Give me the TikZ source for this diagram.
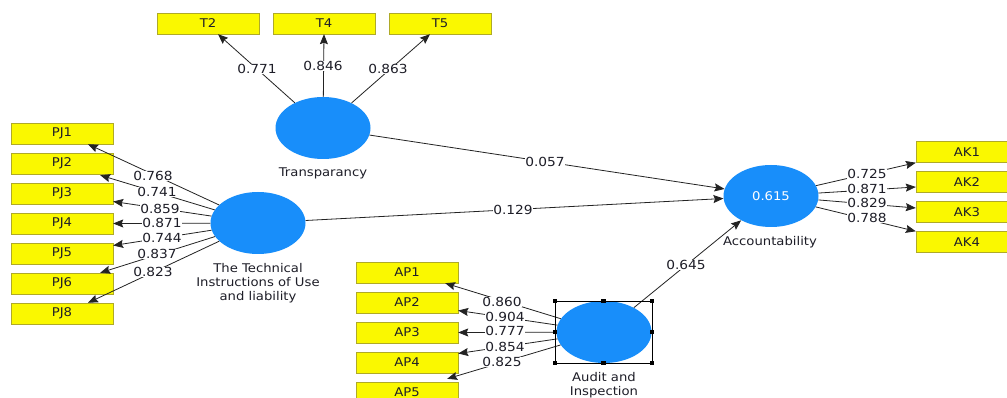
\documentclass[tikz,border=0pt]{standalone}
\usepackage{fontspec}
\setmainfont[FakeStretch=1.1]{DejaVu Sans}
\usetikzlibrary{arrows.meta,shapes.geometric,calc}
\definecolor{boxfill}{RGB}{250,248,0}
\definecolor{boxline}{RGB}{175,170,40}
\definecolor{lvblue}{RGB}{24,142,250}
\definecolor{lnc}{RGB}{35,35,35}
\definecolor{txc}{RGB}{30,30,40}
\begin{document}
\begin{tikzpicture}[x=1pt,y=-1pt,
  ind/.style={draw=boxline,fill=boxfill,minimum width=102pt,minimum height=21pt,inner sep=0pt,font=\fontsize{12}{13}\selectfont,text=txc},
  lat/.style={ellipse,fill=lvblue,minimum width=95pt,minimum height=62pt,inner sep=0pt,font=\fontsize{12}{13}\selectfont,text=white},
  conn/.style={draw=lnc,line width=0.8pt,-{Stealth[length=10pt,width=8pt,inset=1.5pt]}},
  lab/.style={fill=white,inner sep=0.6pt,font=\fontsize{12.5}{13}\selectfont,text=txc},
  ttl/.style={font=\fontsize{12}{14}\selectfont,text=txc,align=center},
  handle/.style={fill=black,minimum size=4.5pt,inner sep=0pt}]
\useasboundingbox (0,0) rectangle (1007,398);
\clip (0,0) rectangle (1007,398);
\fill[white] (0,0) rectangle (1007,398);
% indicator boxes
\node[ind] (T2) at (208,23.5) {T2};
\node[ind] (T4) at (324,23.5) {T4};
\node[ind] (T5) at (440,23.5) {T5};
\foreach \n/\yy in {PJ1/133.5,PJ2/163.5,PJ3/193.5,PJ4/223.5,PJ5/253.5,PJ6/283.5,PJ8/313.5}
  \node[ind] (\n) at (62,\yy) {\n};
\foreach \n/\yy in {AP1/272.5,AP2/302.5,AP3/332.5,AP4/362.5,AP5/392.5}
  \node[ind] (\n) at (407,\yy) {\n};
\foreach \n/\yy in {AK1/152,AK2/182,AK3/212,AK4/242}
  \node[ind] (\n) at (967,\yy) {\n};
% latent variables
\node[lat] (TR) at (323,128) {};
\node[lat] (TI) at (258,223) {};
\node[lat] (AU) at (604,332) {};
\node[lat] (AC) at (771,196) {0.615};
\node[ttl] (TRl) at (323,173) {Transparancy};
\node[ttl] (TIl) at (258,283) {The Technical\\Instructions of Use\\and liability};
\node[ttl] (AUl) at (604,385) {Audit and\\Inspection};
\node[ttl] (ACl) at (770,242) {Accountability};
% connectors
\draw[conn] (TR) -- ($(T2.south)+(10,0)$);
\draw[conn] (TR) -- (T4.south);
\draw[conn] (TR) -- ($(T5.south)+(-10,0)$);
\draw[conn] (TI) -- ($(PJ1.south)+(26,0)$);
\draw[conn] (TI) -- ($(PJ2.south east)+(-13,1)$);
\draw[conn] (TI) -- ($(PJ3.east)+(0,8)$);
\draw[conn] (TI) -- (PJ4.east);
\draw[conn] (TI) -- ($(PJ5.east)+(0,-8)$);
\draw[conn] (TI) -- ($(PJ6.north east)+(-13,0)$);
\draw[conn] (TI) -- ($(PJ8.north)+(26,0)$);
\draw[conn] (AU) -- ($(AP1.south east)+(-13,0)$);
\draw[conn] (AU) -- ($(AP2.east)+(0,8)$);
\draw[conn] (AU) -- (AP3.east);
\draw[conn] (AU) -- ($(AP4.east)+(0,-9)$);
\draw[conn] (AU) -- ($(AP5.north east)+(-11,-3)$);
\draw[conn] (AC) -- (AK1.south west);
\draw[conn] (AC) -- ($(AK2.west)+(0,5)$);
\draw[conn] (AC) -- ($(AK3.west)+(0,-4)$);
\draw[conn] (AC) -- (AK4.north west);
\draw[conn] (TR) -- (AC);
\draw[conn] (TI) -- (AC);
\draw[conn] (AU) -- (AC);
% path coefficient and loading labels
\node[lab] at (257,69) {0.771};
\node[lab] at (323,66) {0.846};
\node[lab] at (388,69) {0.863};
\node[lab] at (545,162) {0.057};
\node[lab] at (513,210) {0.129};
\node[lab] at (686,265) {0.645};
\node[lab] at (153,176) {0.768};
\node[lab] at (157,192) {0.741};
\node[lab] at (160,209) {0.859};
\node[lab] at (162,223) {0.871};
\node[lab] at (162,238) {0.744};
\node[lab] at (157,254) {0.837};
\node[lab] at (153,272) {0.823};
\node[lab] at (502,302) {0.860};
\node[lab] at (505,317) {0.904};
\node[lab] at (505,331) {0.777};
\node[lab] at (505,347) {0.854};
\node[lab] at (502,362) {0.825};
\node[lab] at (867,174) {0.725};
\node[lab] at (867,189) {0.871};
\node[lab] at (867,203) {0.829};
\node[lab] at (867,218) {0.788};
% selection frame
\draw[black,line width=0.6pt] ($(AU.center)+(-49,-31)$) rectangle ($(AU.center)+(48,31)$);
\foreach \dx in {-49,-0.5,48}
  \foreach \dy in {-31,31}
    \node[handle] at ($(AU.center)+(\dx,\dy)$) {};
\node[handle] at ($(AU.center)+(-49,0)$) {};
\node[handle] at ($(AU.center)+(48,0)$) {};
\end{tikzpicture}
\end{document}
